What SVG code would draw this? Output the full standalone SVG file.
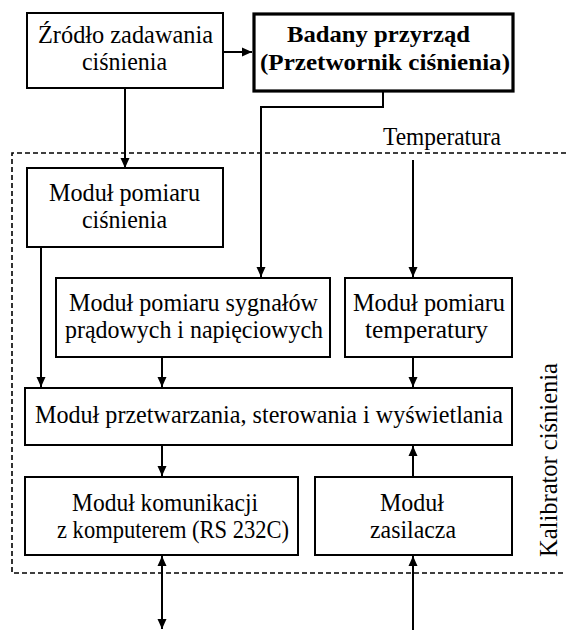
<svg xmlns="http://www.w3.org/2000/svg" width="566" height="630" viewBox="0 0 566 630">
  <style>
    .box { fill: #fff; stroke: #000; stroke-width: 2; }
    .bold-box { fill: #fff; stroke: #000; stroke-width: 3.2; }
    .t { font-family: "Liberation Serif", "Times New Roman", serif; font-size: 25px; fill: #000; }
    .tb { font-weight: bold; font-size: 23px; }
    .wire { fill: none; stroke: #000; stroke-width: 2; }
    .frame { fill: none; stroke: #000; stroke-width: 1.6; stroke-dasharray: 5 3; }
  </style>
  <defs>
    <marker id="arrow" viewBox="0 0 10 10" refX="10" refY="5" markerWidth="10" markerHeight="10" markerUnits="userSpaceOnUse" orient="auto-start-reverse">
      <path d="M0,0.5 L10,5 L0,9.5 z" fill="#000"/>
    </marker>
  </defs>

  <!-- calibrator enclosure (open on the right, runs off the page) -->
  <path class="frame" d="M566,153 H12 V573 H566"/>
  <text class="t" x="383" y="145" textLength="118" lengthAdjust="spacingAndGlyphs">Temperatura</text>
  <text class="t" transform="translate(557,557) rotate(-90)" x="0" y="0" textLength="194" lengthAdjust="spacingAndGlyphs">Kalibrator ciśnienia</text>

  <!-- connectors -->
  <g id="connectors">
    <path class="wire" d="M223,52 H252" marker-end="url(#arrow)"/>
    <path class="wire" d="M125,88 V168" marker-end="url(#arrow)"/>
    <path class="wire" d="M383,91 V107 H261 V277" marker-end="url(#arrow)"/>
    <path class="wire" d="M413,160 V277" marker-end="url(#arrow)"/>
    <path class="wire" d="M41,247 V387" marker-end="url(#arrow)"/>
    <path class="wire" d="M162,357 V387" marker-end="url(#arrow)"/>
    <path class="wire" d="M413,357 V387" marker-end="url(#arrow)"/>
    <path class="wire" d="M162,445 V476" marker-end="url(#arrow)"/>
    <path class="wire" d="M413,477 V446" marker-end="url(#arrow)"/>
    <path class="wire" d="M162,556 V629" marker-start="url(#arrow)" marker-end="url(#arrow)"/>
    <path class="wire" d="M413,630 V556" marker-end="url(#arrow)"/>
  </g>

  <g id="zrodlo">
    <rect class="box" x="27" y="13" width="196" height="75"/>
    <text class="t" x="38" y="43" textLength="175" lengthAdjust="spacingAndGlyphs">Źródło zadawania</text>
    <text class="t" x="82" y="70" textLength="85" lengthAdjust="spacingAndGlyphs">ciśnienia</text>
  </g>

  <g id="przyrzad">
    <rect class="bold-box" x="254" y="14" width="259" height="77"/>
    <text class="t tb" x="287" y="42" textLength="183" lengthAdjust="spacingAndGlyphs">Badany przyrząd</text>
    <text class="t tb" x="260" y="70" textLength="250" lengthAdjust="spacingAndGlyphs">(Przetwornik ciśnienia)</text>
  </g>

  <g id="pomiar-cisnienia">
    <rect class="box" x="27" y="168" width="196" height="79"/>
    <text class="t" x="49" y="201" textLength="151" lengthAdjust="spacingAndGlyphs">Moduł pomiaru</text>
    <text class="t" x="82" y="228" textLength="85" lengthAdjust="spacingAndGlyphs">ciśnienia</text>
  </g>

  <g id="pomiar-sygnalow">
    <rect class="box" x="56" y="278" width="274" height="79"/>
    <text class="t" x="69" y="311" textLength="249" lengthAdjust="spacingAndGlyphs">Moduł pomiaru sygnałów</text>
    <text class="t" x="65" y="338" textLength="258" lengthAdjust="spacingAndGlyphs">prądowych i napięciowych</text>
  </g>

  <g id="pomiar-temperatury">
    <rect class="box" x="345" y="278" width="167" height="79"/>
    <text class="t" x="353" y="311" textLength="152" lengthAdjust="spacingAndGlyphs">Moduł pomiaru</text>
    <text class="t" x="365" y="338" textLength="123" lengthAdjust="spacingAndGlyphs">temperatury</text>
  </g>

  <g id="przetwarzanie">
    <rect class="box" x="25" y="388" width="487" height="57"/>
    <text class="t" x="35" y="423" textLength="468" lengthAdjust="spacingAndGlyphs">Moduł przetwarzania, sterowania i wyświetlania</text>
  </g>

  <g id="komunikacja">
    <rect class="box" x="25" y="477" width="273" height="78"/>
    <text class="t" x="72" y="511" textLength="186" lengthAdjust="spacingAndGlyphs">Moduł komunikacji</text>
    <text class="t" x="57" y="538" textLength="232" lengthAdjust="spacingAndGlyphs">z komputerem (RS 232C)</text>
  </g>

  <g id="zasilacz">
    <rect class="box" x="315" y="477" width="197" height="78"/>
    <text class="t" x="380" y="511" textLength="64" lengthAdjust="spacingAndGlyphs">Moduł</text>
    <text class="t" x="370" y="538" textLength="86" lengthAdjust="spacingAndGlyphs">zasilacza</text>
  </g>
</svg>
